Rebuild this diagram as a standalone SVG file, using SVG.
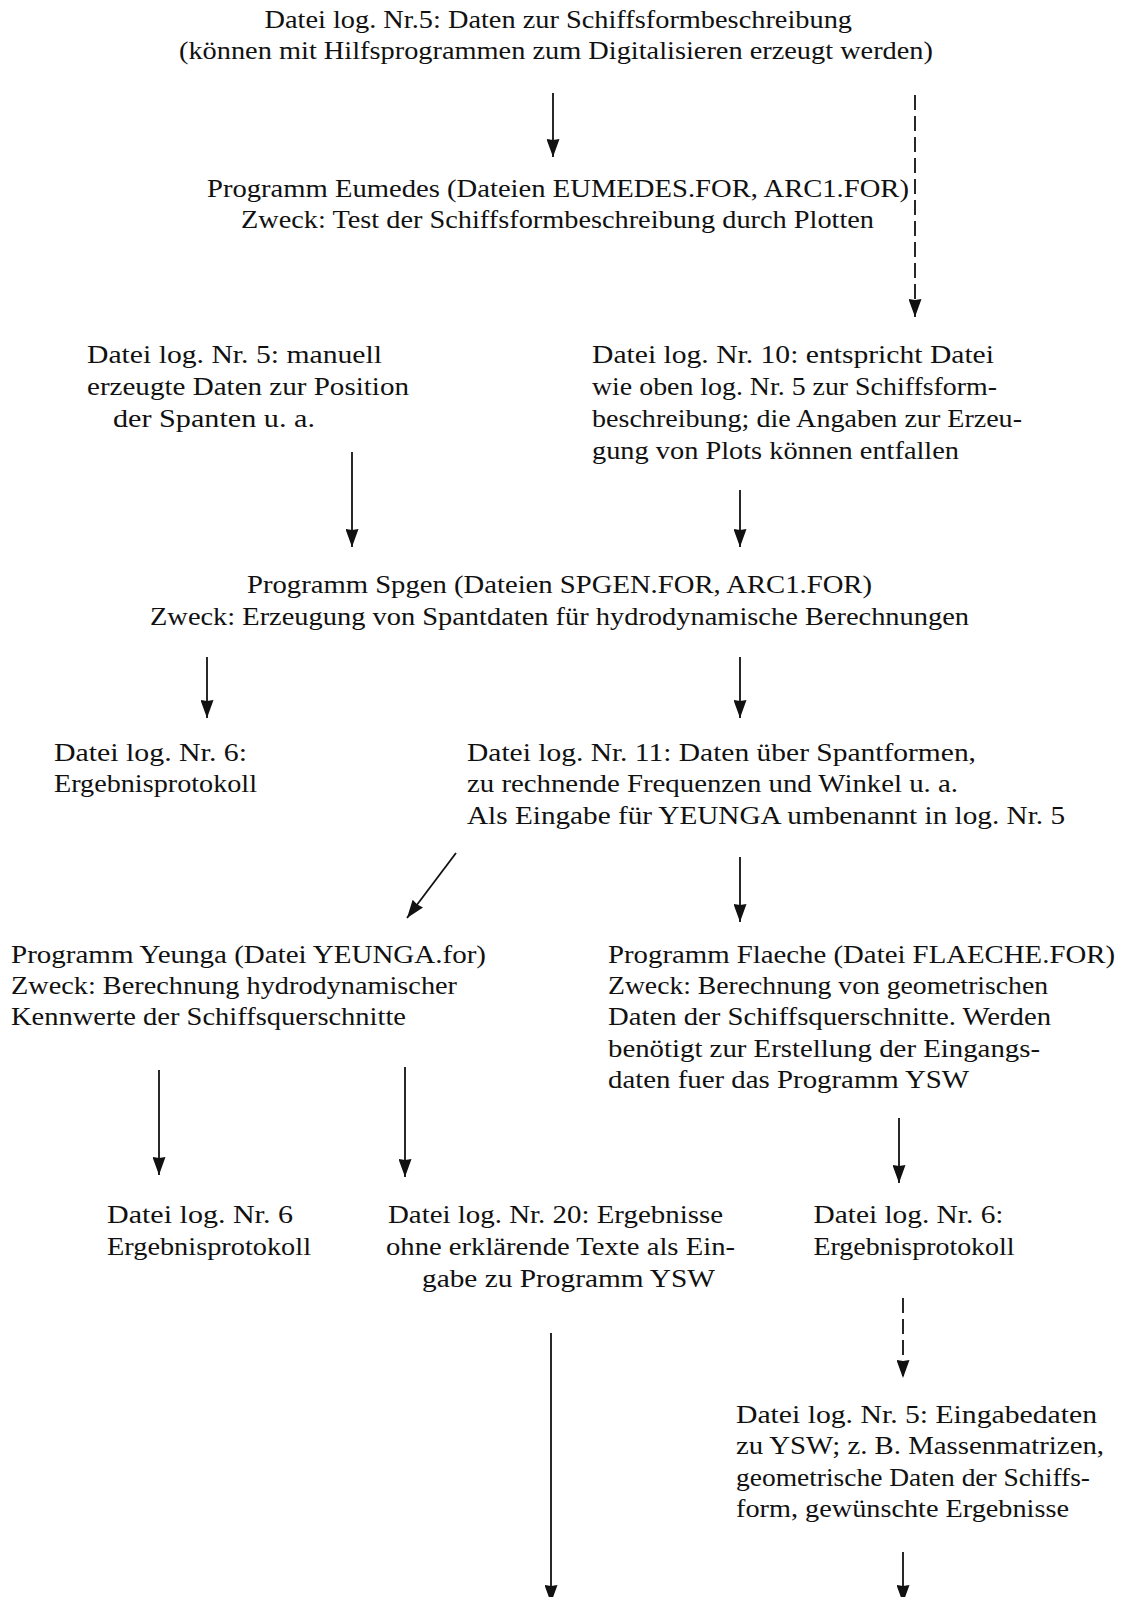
<svg xmlns="http://www.w3.org/2000/svg" width="1121" height="1597" viewBox="0 0 1121 1597">
<defs>
<style>
text{font-family:"Liberation Serif","DejaVu Serif",serif;font-size:25px;fill:#111;}
.c{stroke:#111;stroke-width:1.8;fill:none;marker-end:url(#ah);}
.d{stroke-dasharray:15 6;}
</style>
<marker id="ah" markerUnits="userSpaceOnUse" viewBox="0 0 18 13" refX="18" refY="6.5" markerWidth="18" markerHeight="13" orient="auto">
<path d="M0,0 L18,6.5 L0,13 L1,6.5 z" fill="#111"/>
</marker>
</defs>
<rect width="1121" height="1597" fill="#fff"/>
<g id="n1">
<text x="264.5" y="28" textLength="587.5" lengthAdjust="spacingAndGlyphs">Datei log. Nr.5: Daten zur Schiffsformbeschreibung</text>
<text x="179" y="59" textLength="754" lengthAdjust="spacingAndGlyphs">(können mit Hilfsprogrammen zum Digitalisieren erzeugt werden)</text>
</g>
<g id="n2">
<text x="207" y="197" textLength="702" lengthAdjust="spacingAndGlyphs">Programm Eumedes (Dateien EUMEDES.FOR, ARC1.FOR)</text>
<text x="241" y="228" textLength="633" lengthAdjust="spacingAndGlyphs">Zweck: Test der Schiffsformbeschreibung durch Plotten</text>
</g>
<g id="n3">
<text x="87" y="363" textLength="295" lengthAdjust="spacingAndGlyphs">Datei log. Nr. 5: manuell</text>
<text x="87" y="395" textLength="322" lengthAdjust="spacingAndGlyphs">erzeugte Daten zur Position</text>
<text x="113" y="427" textLength="202" lengthAdjust="spacingAndGlyphs">der Spanten u. a.</text>
</g>
<g id="n4">
<text x="592" y="363" textLength="402" lengthAdjust="spacingAndGlyphs">Datei log. Nr. 10: entspricht Datei</text>
<text x="592" y="395" textLength="405" lengthAdjust="spacingAndGlyphs">wie oben log. Nr. 5 zur Schiffsform-</text>
<text x="592" y="427" textLength="430" lengthAdjust="spacingAndGlyphs">beschreibung; die Angaben zur Erzeu-</text>
<text x="592" y="459" textLength="367" lengthAdjust="spacingAndGlyphs">gung von Plots können entfallen</text>
</g>
<g id="n5">
<text x="247" y="593" textLength="625" lengthAdjust="spacingAndGlyphs">Programm Spgen (Dateien SPGEN.FOR, ARC1.FOR)</text>
<text x="150" y="625" textLength="819" lengthAdjust="spacingAndGlyphs">Zweck: Erzeugung von Spantdaten für hydrodynamische Berechnungen</text>
</g>
<g id="n6">
<text x="54" y="761" textLength="193" lengthAdjust="spacingAndGlyphs">Datei log. Nr. 6:</text>
<text x="54" y="792" textLength="203" lengthAdjust="spacingAndGlyphs">Ergebnisprotokoll</text>
</g>
<g id="n7">
<text x="467" y="761" textLength="509" lengthAdjust="spacingAndGlyphs">Datei log. Nr. 11: Daten über Spantformen,</text>
<text x="467" y="792" textLength="491" lengthAdjust="spacingAndGlyphs">zu rechnende Frequenzen und Winkel u. a.</text>
<text x="467" y="824" textLength="598" lengthAdjust="spacingAndGlyphs">Als Eingabe für YEUNGA umbenannt in log. Nr. 5</text>
</g>
<g id="n8">
<text x="11" y="963" textLength="475" lengthAdjust="spacingAndGlyphs">Programm Yeunga (Datei YEUNGA.for)</text>
<text x="11" y="994" textLength="446" lengthAdjust="spacingAndGlyphs">Zweck: Berechnung hydrodynamischer</text>
<text x="11" y="1025" textLength="395" lengthAdjust="spacingAndGlyphs">Kennwerte der Schiffsquerschnitte</text>
</g>
<g id="n9">
<text x="608" y="963" textLength="507" lengthAdjust="spacingAndGlyphs">Programm Flaeche (Datei FLAECHE.FOR)</text>
<text x="608" y="994" textLength="440" lengthAdjust="spacingAndGlyphs">Zweck: Berechnung von geometrischen</text>
<text x="608" y="1025" textLength="443" lengthAdjust="spacingAndGlyphs">Daten der Schiffsquerschnitte. Werden</text>
<text x="608" y="1057" textLength="432" lengthAdjust="spacingAndGlyphs">benötigt zur Erstellung der Eingangs-</text>
<text x="608" y="1088" textLength="361" lengthAdjust="spacingAndGlyphs">daten fuer das Programm YSW</text>
</g>
<g id="n10">
<text x="107" y="1223" textLength="186" lengthAdjust="spacingAndGlyphs">Datei log. Nr. 6</text>
<text x="107" y="1255" textLength="204" lengthAdjust="spacingAndGlyphs">Ergebnisprotokoll</text>
</g>
<g id="n11">
<text x="388" y="1223" textLength="335" lengthAdjust="spacingAndGlyphs">Datei log. Nr. 20: Ergebnisse</text>
<text x="386" y="1255" textLength="349" lengthAdjust="spacingAndGlyphs">ohne erklärende Texte als Ein-</text>
<text x="422" y="1287" textLength="293" lengthAdjust="spacingAndGlyphs">gabe zu Programm YSW</text>
</g>
<g id="n12">
<text x="813.5" y="1223" textLength="190" lengthAdjust="spacingAndGlyphs">Datei log. Nr. 6:</text>
<text x="813.5" y="1255" textLength="201" lengthAdjust="spacingAndGlyphs">Ergebnisprotokoll</text>
</g>
<g id="n13">
<text x="736" y="1423" textLength="361" lengthAdjust="spacingAndGlyphs">Datei log. Nr. 5: Eingabedaten</text>
<text x="736" y="1454" textLength="368" lengthAdjust="spacingAndGlyphs">zu YSW; z. B. Massenmatrizen,</text>
<text x="736" y="1486" textLength="354" lengthAdjust="spacingAndGlyphs">geometrische Daten der Schiffs-</text>
<text x="736" y="1517" textLength="333" lengthAdjust="spacingAndGlyphs">form, gewünschte Ergebnisse</text>
</g>
<g id="connectors">
<line class="c" x1="553" y1="93" x2="553" y2="157"/>
<line class="c d" x1="915" y1="95" x2="915" y2="317"/>
<line class="c" x1="352" y1="452" x2="352" y2="547"/>
<line class="c" x1="740" y1="490" x2="740" y2="547"/>
<line class="c" x1="207" y1="657" x2="207" y2="718"/>
<line class="c" x1="740" y1="657" x2="740" y2="718"/>
<line class="c" x1="456" y1="853" x2="407" y2="918"/>
<line class="c" x1="740" y1="857" x2="740" y2="922"/>
<line class="c" x1="159" y1="1070" x2="159" y2="1175"/>
<line class="c" x1="405" y1="1067" x2="405" y2="1177"/>
<line class="c" x1="899" y1="1118" x2="899" y2="1183"/>
<line class="c d" x1="903" y1="1298" x2="903" y2="1378"/>
<line class="c" x1="551" y1="1333" x2="551" y2="1603"/>
<line class="c" x1="903" y1="1552" x2="903" y2="1603"/>
</g>
</svg>
